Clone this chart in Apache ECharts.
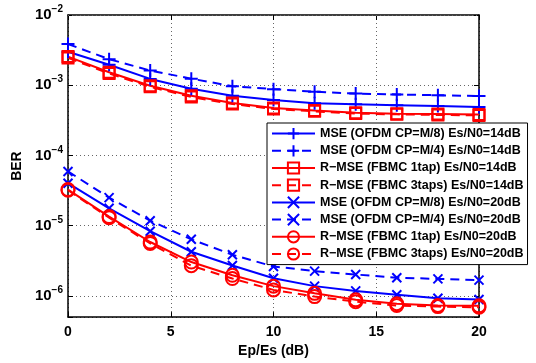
<!DOCTYPE html>
<html><head><meta charset="utf-8">
<script src="https://cdn.jsdelivr.net/npm/echarts@6/dist/echarts.min.js"></script>
<style>html,body{margin:0;padding:0;background:#fff}#c{width:536px;height:363px}</style>
</head><body><div id="c"></div>
<script>
const xValues = [0,2,4,6,8,10,12,14,16,18,20];
const xTicks = [0,5,10,15,20];
const yDecades = [-6,-5,-4,-3,-2];
const minorGridValues = [6e-7,7e-7,8e-7,9e-7,
  2e-6,3e-6,4e-6,5e-6,6e-6,7e-6,8e-6,9e-6,
  2e-5,3e-5,4e-5,5e-5,6e-5,7e-5,8e-5,9e-5,
  2e-4,3e-4,4e-4,5e-4,6e-4,7e-4,8e-4,9e-4,
  2e-3,3e-3,4e-3,5e-3,6e-3,7e-3,8e-3,9e-3];
const mseCP8_14   = [3.0e-3,1.96e-3,1.23e-3,8.9e-4,7.1e-4,6.14e-4,5.56e-4,5.35e-4,5.21e-4,5.05e-4,4.89e-4];
const mseCP4_14   = [3.86e-3,2.35e-3,1.62e-3,1.24e-3,9.7e-4,8.8e-4,8.1e-4,7.6e-4,7.4e-4,7.2e-4,7.0e-4];
const rmse1tap_14 = [2.56e-3,1.53e-3,9.85e-4,7.1e-4,5.6e-4,4.73e-4,4.38e-4,4.07e-4,3.94e-4,3.88e-4,3.82e-4];
const rmse3taps_14= [2.45e-3,1.47e-3,9.5e-4,6.8e-4,5.4e-4,4.6e-4,4.25e-4,3.95e-4,3.85e-4,3.78e-4,3.72e-4];
const mseCP8_20   = [4.03e-5,1.77e-5,8.36e-6,4.26e-6,2.72e-6,1.79e-6,1.38e-6,1.18e-6,1.04e-6,9.26e-7,8.9e-7];
const mseCP4_20   = [5.93e-5,2.51e-5,1.18e-5,6.4e-6,3.86e-6,2.63e-6,2.26e-6,2.02e-6,1.82e-6,1.75e-6,1.68e-6];
const rmse1tap_20 = [3.27e-5,1.35e-5,5.86e-6,3.04e-6,1.97e-6,1.38e-6,1.09e-6,8.8e-7,7.76e-7,7.33e-7,7.23e-7];
const rmse3taps_20= [3.2e-5,1.3e-5,5.6e-6,2.7e-6,1.77e-6,1.22e-6,9.8e-7,8.3e-7,7.3e-7,7.05e-7,6.9e-7];
const names = [
  'MSE (OFDM CP=M/8) Es/N0=14dB',
  'MSE (OFDM CP=M/4) Es/N0=14dB',
  'R\u2212MSE (FBMC 1tap) Es/N0=14dB',
  'R\u2212MSE (FBMC 3taps) Es/N0=14dB',
  'MSE (OFDM CP=M/8) Es/N0=20dB',
  'MSE (OFDM CP=M/4) Es/N0=20dB',
  'R\u2212MSE (FBMC 1tap) Es/N0=20dB',
  'R\u2212MSE (FBMC 3taps) Es/N0=20dB'
];
const values = [mseCP8_14, mseCP4_14, rmse1tap_14, rmse3taps_14, mseCP8_20, mseCP4_20, rmse1tap_20, rmse3taps_20];

const BLUE = '#0000ff', RED = '#ff0000';
const FONT = 'Liberation Sans';
const PLUS = 'path://M0,5L10,5M5,0L5,10';
const CROSS = 'path://M0,0L10,10M10,0L0,10';
const styles = [
  {c:BLUE, dash:false, sym:PLUS, size:13},
  {c:BLUE, dash:true,  sym:PLUS, size:13},
  {c:RED,  dash:false, sym:'rect', size:11},
  {c:RED,  dash:true,  sym:'rect', size:11},
  {c:BLUE, dash:false, sym:CROSS, size:9},
  {c:BLUE, dash:true,  sym:CROSS, size:9},
  {c:RED,  dash:false, sym:'circle', size:13},
  {c:RED,  dash:true,  sym:'circle', size:13}
];

const series = values.map((v, i) => ({
  name: names[i],
  type: 'line',
  data: xValues.map((x, k) => [x, v[k]]),
  symbol: styles[i].sym,
  symbolSize: styles[i].size,
  showAllSymbol: true,
  lineStyle: {color: styles[i].c, width: 2, type: styles[i].dash ? [9,6] : 'solid'},
  itemStyle: {color: 'rgba(0,0,0,0)', borderColor: styles[i].c, borderWidth: 2},
  emphasis: {disabled: true},
  animation: false
}));

series.unshift({
  name: 'minorGrid',
  type: 'line',
  data: [],
  silent: true,
  markLine: {
    silent: true,
    symbol: ['none','none'],
    label: {show: false},
    lineStyle: {color: '#666', width: 1, type: [1,3]},
    data: minorGridValues.map(v => ({yAxis: v})),
    animation: false
  }
});

function yLabel(v) {
  const e = Math.log10(v);
  const r = Math.round(e);
  if (Math.abs(e - r) > 0.01 || yDecades.indexOf(r) < 0) return '';
  return '{b|10}{e|\u2212' + (-r) + '}';
}

const axisLineStyle = {color: '#000', width: 1.5};
const option = {
  animation: false,
  backgroundColor: '#fff',
  grid: {left: 68, right: 57, top: 15, bottom: 41, show: false},
  xAxis: [{
    type: 'value', min: 0, max: 20, interval: 5,
    name: 'Ep/Es (dB)', nameLocation: 'middle', nameGap: 26,
    nameTextStyle: {fontFamily: FONT, fontWeight: 'bold', fontSize: 14, color: '#000'},
    axisLine: {show: true, onZero: false, lineStyle: axisLineStyle},
    axisTick: {show: true, inside: true, length: 5, lineStyle: {color: '#000', width: 1}},
    axisLabel: {margin: 8, fontFamily: FONT, fontWeight: 'bold', fontSize: 14, color: '#000',
      formatter: v => xTicks.indexOf(v) >= 0 ? String(v) : ''},
    splitLine: {show: true, lineStyle: {color: '#666', width: 1, type: [1,3]}}
  }, {
    type: 'value', min: 0, max: 20, interval: 5, position: 'top',
    axisLine: {show: true, onZero: false, lineStyle: axisLineStyle},
    axisTick: {show: true, inside: true, length: 5, lineStyle: {color: '#000', width: 1}},
    axisLabel: {show: false}, splitLine: {show: false}
  }],
  yAxis: [{
    type: 'log', logBase: 10, min: 5e-7, max: 1e-2,
    name: 'BER', nameLocation: 'middle', nameGap: 40, nameRotate: 90,
    nameTextStyle: {fontFamily: FONT, fontWeight: 'bold', fontSize: 14, color: '#000'},
    axisLine: {show: true, onZero: false, lineStyle: axisLineStyle},
    axisTick: {show: true, inside: true, length: 5, lineStyle: {color: '#000', width: 1}},
    axisLabel: {margin: 5, formatter: yLabel,
      rich: {
        b: {fontFamily: FONT, fontWeight: 'bold', fontSize: 15, color: '#000'},
        e: {fontFamily: FONT, fontWeight: 'bold', fontSize: 10, color: '#000', padding: [0,0,11,0]}
      }},
    splitLine: {show: true, lineStyle: {color: '#666', width: 1, type: [1,3]}}
  }, {
    type: 'log', logBase: 10, min: 5e-7, max: 1e-2, position: 'right',
    axisLine: {show: true, onZero: false, lineStyle: axisLineStyle},
    axisTick: {show: true, inside: true, length: 5, lineStyle: {color: '#000', width: 1}},
    axisLabel: {show: false}, splitLine: {show: false}
  }],
  legend: {
    data: names,
    orient: 'vertical',
    left: 267, top: 123,
    padding: [4, 4, 4, 4],
    itemWidth: 43, itemHeight: 14, itemGap: 4,
    backgroundColor: '#fff',
    borderColor: '#000', borderWidth: 1,
    selectedMode: false,
    textStyle: {fontFamily: FONT, fontWeight: 'bold', fontSize: 12.5, color: '#000'}
  },
  series: series
};
const chart = echarts.init(document.getElementById('c'), null, {renderer: 'canvas'});
chart.setOption(option);
</script>
</body></html>
